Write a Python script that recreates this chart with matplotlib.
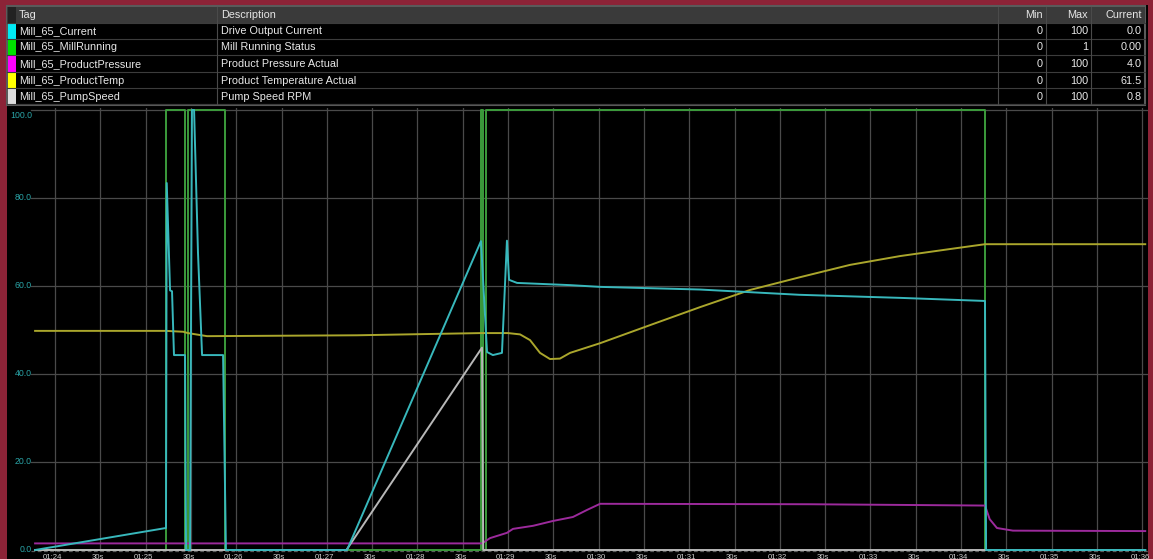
import matplotlib
matplotlib.use("Agg")
import matplotlib.pyplot as plt
from matplotlib.patches import Rectangle

# ---------------- data ----------------
# time in seconds relative to 01:24:00
tags = ["Mill_65_Current", "Mill_65_MillRunning", "Mill_65_ProductPressure",
        "Mill_65_ProductTemp", "Mill_65_PumpSpeed"]
descriptions = ["Drive Output Current", "Mill Running Status", "Product Pressure Actual",
                "Product Temperature Actual", "Pump Speed RPM"]
mins = ["0", "0", "0", "0", "0"]
maxs = ["100", "1", "100", "100", "100"]
currents = ["0.0", "0.00", "4.0", "61.5", "0.8"]
headers = ["Tag", "Description", "Min", "Max", "Current"]

current_t = [-13.2, 73.5, 74.0, 76.2, 77.5, 78.8, 86.1, 86.8, 89.4, 90.7, 92.1, 94.7, 97.4,
             111.3, 113.2, 193.4, 282.1, 286.1, 290.0, 296.0, 299.3, 300.7, 306.0, 341.0,
             361.0, 427.0, 460.0, 493.0, 560.0, 615.9, 616.6, 722.0]
current_v = [0.0, 5.0, 83.4, 59.0, 58.8, 44.3, 44.3, 0.0, 0.0, 100.0, 100.0, 67.5, 44.3,
             44.3, 0.0, 0.0, 70.2, 45.0, 44.3, 44.8, 70.3, 61.4, 60.7, 60.2,
             59.8, 59.2, 58.6, 58.0, 57.3, 56.6, 0.0, 0.0]

running_t = [-13.2, 73.5, 86.1, 88.1, 112.6, 282.1, 283.4, 285.4, 616.2, 722.0]
running_v = [0, 1, 0, 1, 0, 1, 0, 1, 0, 0]

pressure_t = [-13.2, 282.8, 288.1, 299.3, 303.3, 316.6, 329.8, 343.0, 352.3, 361.0,
              500.0, 615.9, 619.0, 623.8, 634.4, 722.0]
pressure_v = [1.5, 1.5, 2.7, 3.9, 4.8, 5.5, 6.6, 7.5, 9.1, 10.5,
              10.4, 10.1, 7.0, 5.0, 4.4, 4.3]

temp_t = [-13.2, 73.5, 85.0, 88.0, 100.7, 200.0, 282.0, 300.0, 308.0, 314.6, 321.2, 327.8,
          334.4, 341.1, 361.0, 394.0, 427.2, 460.3, 493.4, 526.5, 559.6, 592.7, 615.9, 722.0]
temp_v = [49.8, 49.8, 49.6, 49.3, 48.6, 48.8, 49.3, 49.3, 49.0, 47.7, 44.8, 43.4,
          43.5, 44.8, 47.0, 51.1, 55.2, 59.1, 62.0, 64.8, 66.8, 68.4, 69.5, 69.5]

pump_t = [-13.2, 193.0, 282.8, 283.6, 722.0]
pump_v = [0.0, 0.0, 46.0, 0.0, 0.0]

y_ticks = [0, 20, 40, 60, 80, 100]
y_tick_labels = ["0.0", "20.0", "40.0", "60.0", "80.0", "100.0"]
x_ticks = list(range(0, 721, 30))
x_tick_labels = ["01:24", "30s", "01:25", "30s", "01:26", "30s", "01:27", "30s", "01:28",
                 "30s", "01:29", "30s", "01:30", "30s", "01:31", "30s", "01:32", "30s",
                 "01:33", "30s", "01:34", "30s", "01:35", "30s", "01:36"]

# ---------------- styles ----------------
W, H = 1153, 559
FONT = "Liberation Sans"
swatch_colors = ["#00eaf5", "#00e000", "#ff00ff", "#ffff00", "#dcdcdc"]
c_current = "#38b8bc"
c_running = "#3c9c3c"
c_pressure = "#9c2a9c"
c_temp = "#aaa62c"
c_pump = "#b8b8b8"
grid_c = "#4a4a4a"

fig = plt.figure(figsize=(W / 100, H / 100), dpi=100)
fig.patch.set_facecolor("#8c2337")

bg = fig.add_axes([0, 0, 1, 1])
bg.set_xlim(0, W)
bg.set_ylim(H, 0)
bg.axis("off")

# black panel
bg.add_patch(Rectangle((7, 5), 1141, H, facecolor="black", edgecolor="none"))

# table
tbl_l, tbl_r = 7, 1145
bg.add_patch(Rectangle((tbl_l, 6), tbl_r - tbl_l, 99, facecolor="black",
                       edgecolor="#5a5a5a", lw=1.5))
bg.add_patch(Rectangle((tbl_l, 7), tbl_r - tbl_l, 16, facecolor="#3a3a3a", edgecolor="none"))
bg.add_patch(Rectangle((tbl_l + 1, 7), 8, 16, facecolor="#222222", edgecolor="none"))
row_lines = [23, 39, 55, 72, 88, 104]
for y in row_lines:
    bg.plot([tbl_l, tbl_r], [y, y], color="#3c3c3c", lw=0.8)
for x in [217, 998, 1046, 1091]:
    bg.plot([x, x], [7, 104], color="#4a4a4a", lw=0.8)

fs_tbl = 7.8
hdr_y = 15
bg.text(19, hdr_y, headers[0], color="#e6e6e6", fontsize=fs_tbl, family=FONT, va="center")
bg.text(221, hdr_y, headers[1], color="#e6e6e6", fontsize=fs_tbl, family=FONT, va="center")
bg.text(1043, hdr_y, headers[2], color="#e6e6e6", fontsize=fs_tbl, family=FONT, va="center", ha="right")
bg.text(1088, hdr_y, headers[3], color="#e6e6e6", fontsize=fs_tbl, family=FONT, va="center", ha="right")
bg.text(1142, hdr_y, headers[4], color="#e6e6e6", fontsize=fs_tbl, family=FONT, va="center", ha="right")

row_tops = row_lines[:-1]
for i in range(5):
    top = row_tops[i]
    bot = row_lines[i + 1]
    cy = (top + bot) / 2 + 0.5
    bg.add_patch(Rectangle((tbl_l + 1, top + 0.5), 8, bot - top - 1,
                           facecolor=swatch_colors[i], edgecolor="none"))
    bg.text(19, cy, tags[i], color="#e8e8e8", fontsize=fs_tbl, family=FONT, va="center")
    bg.text(221, cy, descriptions[i], color="#e8e8e8", fontsize=fs_tbl, family=FONT, va="center")
    bg.text(1043, cy, mins[i], color="#e8e8e8", fontsize=fs_tbl, family=FONT, va="center", ha="right")
    bg.text(1088, cy, maxs[i], color="#e8e8e8", fontsize=fs_tbl, family=FONT, va="center", ha="right")
    bg.text(1142, cy, currents[i], color="#e8e8e8", fontsize=fs_tbl, family=FONT, va="center", ha="right")

# ---------------- chart ----------------
px_per_s = 1.51
x0_px = 55
y0_px = 550
px_per_unit = 4.4
left_px, right_px, top_px = 8, 1148, 108

def t_of(px):
    return (px - x0_px) / px_per_s

def v_of(py):
    return (y0_px - py) / px_per_unit

ax = fig.add_axes([left_px / W, 0, (right_px - left_px) / W, (H - top_px) / H])
ax.set_facecolor("black")
ax.set_xlim(t_of(left_px), t_of(right_px))
ax.set_ylim(v_of(H), v_of(top_px))
for s in ax.spines.values():
    s.set_visible(False)
ax.set_xticks([])
ax.set_yticks([])

grid_left = t_of(31)
for t in x_ticks:
    ax.plot([t, t], [v_of(551), v_of(top_px)], color=grid_c, lw=0.9, zorder=1)
for v in y_ticks[1:]:
    ax.plot([grid_left, t_of(right_px)], [v, v], color=grid_c, lw=0.9, zorder=1)
ax.plot([grid_left, t_of(right_px)], [v_of(550.5), v_of(550.5)], color="#5a5a5a",
        lw=0.9, ls=(0, (3, 2)), zorder=1)

for v, lab in zip(y_ticks, y_tick_labels):
    yy = v if v < 100 else v_of(115)
    ax.text(t_of(32), yy, lab, color="#2aa5a8", fontsize=6.3, family=FONT,
            ha="right", va="center", zorder=6)

for t, lab in zip(x_ticks, x_tick_labels):
    ax.text(t - 1.5, v_of(558.6), lab, color="#cfcfcf", fontsize=5.6, family=FONT,
            ha="center", va="baseline", clip_on=False)

lw = 1.4
ax.plot(running_t, [v * 100 for v in running_v], drawstyle="steps-post",
        color=c_running, lw=lw, zorder=2)
ax.plot(pressure_t, pressure_v, color=c_pressure, lw=lw, zorder=3)
ax.plot(temp_t, temp_v, color=c_temp, lw=lw, zorder=4)
ax.plot(pump_t, pump_v, color=c_pump, lw=lw, zorder=4)
ax.plot(current_t, current_v, color=c_current, lw=lw, zorder=5)

fig.savefig("out.png", dpi=100, facecolor=fig.get_facecolor())
